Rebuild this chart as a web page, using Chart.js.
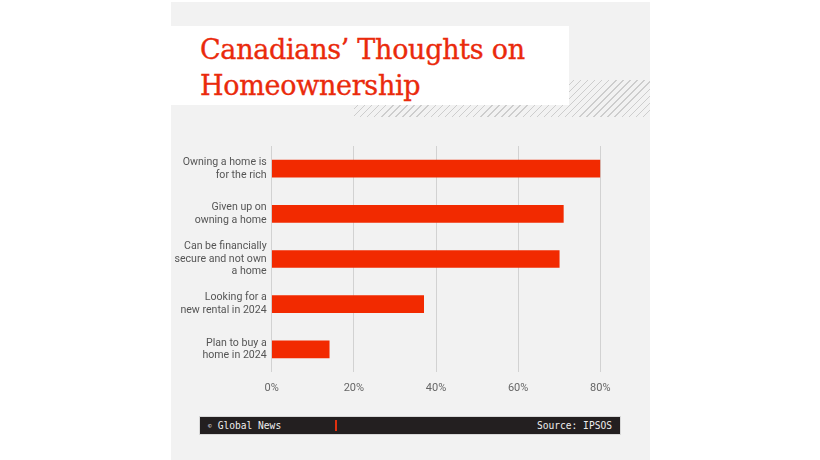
<!DOCTYPE html>
<html>
<head>
<meta charset="utf-8">
<script src="https://cdn.jsdelivr.net/npm/chart.js@4.4.1/dist/chart.umd.min.js"></script>
<style>
  html, body { margin: 0; padding: 0; background: #ffffff; }
  #page { position: relative; width: 820px; height: 460px; overflow: hidden; }
  #panel { position: absolute; left: 171px; top: 2px; width: 479px; height: 458px; background: #f2f2f2; }
  #hatch { position: absolute; left: 354px; top: 80px; width: 296px; height: 37px;
    background: repeating-linear-gradient(135deg, #cdcdcd 0 1px, transparent 1px 5px); }
  #titlebox { position: absolute; left: 171px; top: 26px; width: 398px; height: 79px; background: #ffffff; }
  #title { position: absolute; left: 29px; top: 6px; margin: 0; font-family: "DejaVu Serif", serif;
    font-weight: normal; font-size: 27px; line-height: 36px; color: #ea2a0c; letter-spacing: -0.3px;
    -webkit-text-stroke: 0.35px #ea2a0c; }
  #footer { position: absolute; left: 199px; top: 416px; width: 422px; height: 19px; background: #231f20;
    border: 1px solid #d8d8d8; box-sizing: border-box; font-family: "DejaVu Sans Mono", monospace;
    font-size: 9.6px; color: #eeeeee; line-height: 17px; }
  #footer .left { position: absolute; left: 8px; top: 0; }
  #footer .left small { font-size: 6px; vertical-align: 1px; margin-right: 6px; }
  #footer .right { position: absolute; right: 8px; top: 0; }
  #footer .tick { position: absolute; left: 135px; top: 3px; width: 1.5px; height: 11px; background: #e0300f; }
  #chart { position: absolute; left: 0; top: 0; }
</style>
</head>
<body>
<div id="page">
  <div id="panel"></div>
  <div id="hatch"></div>
  <div id="titlebox"><h1 id="title">Canadians’ Thoughts on<br>Homeownership</h1></div>
  <canvas id="chart" width="820" height="460"></canvas>
  <div id="footer">
    <span class="left"><small>©</small>Global News</span>
    <span class="tick"></span>
    <span class="right">Source: IPSOS</span>
  </div>
</div>
<script>
// survey answers, share of respondents (%)
const categories = [
  ["Owning a home is", "for the rich"],
  ["Given up on", "owning a home"],
  ["Can be financially", "secure and not own", "a home"],
  ["Looking for a", "new rental in 2024"],
  ["Plan to buy a", "home in 2024"]
];
const shares = [80, 71, 70, 37, 14];
const tickValues = [0, 20, 40, 60, 80];

const ctx = document.getElementById("chart").getContext("2d");
new Chart(ctx, {
  type: "bar",
  data: {
    labels: categories,
    datasets: [{
      label: "Share",
      data: shares,
      backgroundColor: "#f22a00",
      borderWidth: 0,
      barThickness: 17
    }]
  },
  options: {
    indexAxis: "y",
    responsive: false,
    animation: false,
    layout: { padding: { left: 171, top: 146, right: 219.7, bottom: 58 } },
    plugins: { legend: { display: false }, tooltip: { enabled: false } },
    scales: {
      x: {
        min: 0,
        max: 80,
        afterFit: (scale) => { scale.height = 30; },
        afterBuildTicks: (scale) => { scale.ticks = tickValues.map(v => ({ value: v })); },
        grid: { color: "#d2d2d2", lineWidth: 1, drawTicks: false },
        border: { display: false },
        ticks: {
          padding: 10,
          color: "#666666",
          font: { family: "Roboto", size: 11 },
          callback: (v) => v + "%"
        }
      },
      y: {
        afterFit: (scale) => { scale.width = 100.7; },
        grid: { display: false, drawTicks: false, tickLength: 0 },
        border: { display: false },
        ticks: {
          padding: 5,
          color: "#555555",
          font: { family: "Roboto", size: 10.6, lineHeight: 1.2 }
        }
      }
    }
  }
});
</script>
</body>
</html>
